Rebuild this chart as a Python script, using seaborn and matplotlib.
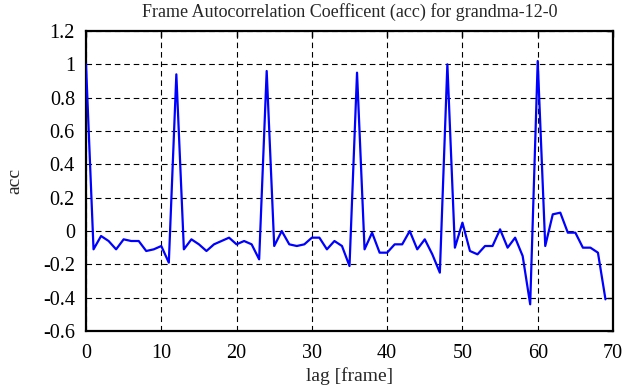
import matplotlib
matplotlib.use("Agg")
import matplotlib.pyplot as plt
import seaborn as sns
import numpy as np
import pandas as pd

lags = list(range(70))
acc = [1.00, -0.11, -0.03, -0.06, -0.11, -0.05, -0.06, -0.06, -0.12, -0.11,
       -0.09, -0.19, 0.94, -0.11, -0.05, -0.08, -0.12, -0.08, -0.06, -0.04,
       -0.08, -0.06, -0.08, -0.17, 0.96, -0.09, 0.00, -0.08, -0.09, -0.08,
       -0.04, -0.04, -0.11, -0.06, -0.09, -0.21, 0.95, -0.11, -0.01, -0.13,
       -0.13, -0.08, -0.08, 0.00, -0.11, -0.05, -0.14, -0.25, 1.00, -0.10,
       0.05, -0.12, -0.14, -0.09, -0.09, 0.01, -0.10, -0.04, -0.15, -0.44,
       1.02, -0.09, 0.10, 0.11, -0.01, -0.01, -0.10, -0.10, -0.13, -0.41]
xticks = [0, 10, 20, 30, 40, 50, 60, 70]
yticks = [-0.6, -0.4, -0.2, 0, 0.2, 0.4, 0.6, 0.8, 1.0, 1.2]
ytick_labels = ["-0.6", "-0.4", "-0.2", "0", "0.2", "0.4", "0.6", "0.8", "1", "1.2"]

sns.set_style("white")
plt.rcParams["font.family"] = ["Liberation Serif", "DejaVu Serif"]

df = pd.DataFrame({"lag": lags, "acc": acc})

fig = plt.figure(figsize=(6.35, 3.87), dpi=100)
ax = fig.add_axes([86/635, 1 - 331/387, (613-86)/635, 300/387])

sns.lineplot(data=df, x="lag", y="acc", ax=ax, color="#0000ff", linewidth=1.6, zorder=3)

ax.set_xlim(0, 70)
ax.set_ylim(-0.6, 1.2)
ax.set_xticks(xticks)
ax.set_xticklabels([str(t) for t in xticks])
ax.set_yticks(yticks)
ax.set_yticklabels(ytick_labels)
ax.grid(True, color="black", linestyle=(0, (5, 3.5)), linewidth=0.8)
ax.tick_params(direction="in", length=4, width=1, top=True, right=True,
               labelsize=14.5, colors="black")
ax.tick_params(axis="y", pad=8)
ax.tick_params(axis="x", pad=9)
for s in ax.spines.values():
    s.set_color("black")
    s.set_linewidth(1.6)

ax.set_title("Frame Autocorrelation Coefficent (acc) for grandma-12-0", fontsize=13, pad=10)
ax.set_xlabel("lag [frame]", fontsize=14, labelpad=3)
ax.set_ylabel("acc", fontsize=14, labelpad=14)

fig.savefig("out.png", dpi=100)
